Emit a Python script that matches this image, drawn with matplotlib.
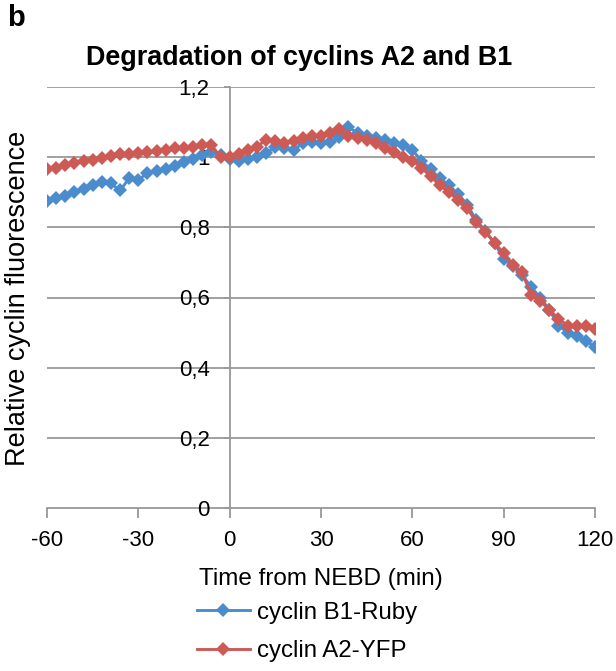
import matplotlib
matplotlib.use("Agg")
import matplotlib.pyplot as plt
from matplotlib.ticker import FuncFormatter

plt.rcParams['font.family'] = ['Liberation Sans', 'DejaVu Sans']
plt.rcParams['axes.unicode_minus'] = False

time_min = [-60, -57, -54, -51, -48, -45, -42, -39, -36, -33, -30, -27, -24, -21, -18, -15,
            -12, -9, -6, -3, 0, 3, 6, 9, 12, 15, 18, 21, 24, 27, 30, 33, 36, 39, 42, 45,
            48, 51, 54, 57, 60, 63, 66, 69, 72, 75, 78, 81, 84, 87, 90, 93, 96, 99, 102,
            105, 108, 111, 114, 117, 120]

cyclin_b1_ruby = [0.875, 0.885, 0.89, 0.90, 0.91, 0.92, 0.93, 0.925, 0.905, 0.94, 0.935, 0.955,
                  0.96, 0.965, 0.975, 0.985, 0.995, 1.005, 1.015, 1.005, 0.995, 0.99, 0.995,
                  1.0, 1.012, 1.028, 1.026, 1.02, 1.04, 1.042, 1.04, 1.043, 1.057, 1.085, 1.07,
                  1.06, 1.055, 1.05, 1.04, 1.035, 1.02, 0.99, 0.965, 0.94, 0.92, 0.895, 0.865,
                  0.82, 0.79, 0.755, 0.71, 0.69, 0.665, 0.63, 0.60, 0.565, 0.52, 0.50, 0.49,
                  0.475, 0.46]

cyclin_a2_yfp = [0.965, 0.97, 0.978, 0.983, 0.988, 0.993, 0.998, 1.003, 1.008, 1.01, 1.013, 1.015,
                 1.018, 1.02, 1.025, 1.027, 1.03, 1.035, 1.035, 1.0, 1.0, 1.01, 1.02, 1.03, 1.05,
                 1.045, 1.04, 1.045, 1.055, 1.06, 1.06, 1.07, 1.08, 1.06, 1.055, 1.05, 1.04,
                 1.027, 1.015, 1.0, 0.99, 0.97, 0.945, 0.92, 0.90, 0.878, 0.855, 0.815, 0.787,
                 0.755, 0.727, 0.693, 0.673, 0.607, 0.59, 0.565, 0.54, 0.52, 0.52, 0.52, 0.51]

x_ticks = [-60, -30, 0, 30, 60, 90, 120]
y_ticks = [0, 0.2, 0.4, 0.6, 0.8, 1.0, 1.2]

series_names = ['cyclin B1-Ruby', 'cyclin A2-YFP']
colors = ['#4B8CCD', '#CD5A55']

fig = plt.figure(figsize=(6.16, 6.71), dpi=100)
ax = fig.add_axes([47 / 616, 1 - 508 / 671, (595 - 47) / 616, (508 - 87) / 671])

gray = '#999999'
for yv in y_ticks[1:]:
    ax.axhline(yv, color=gray, lw=1.3, zorder=0)

for vals, name, c in zip([cyclin_b1_ruby, cyclin_a2_yfp], series_names, colors):
    ax.plot(time_min, vals, color=c, lw=2.1, marker='D', markersize=7.5,
            markeredgewidth=0, label=name, zorder=3)

ax.set_xlim(-60, 120)
ax.set_ylim(0, 1.2)
ax.set_xticks(x_ticks)
ax.set_yticks(y_ticks)

def comma_fmt(v, pos):
    s = f"{v:.1f}".rstrip('0').rstrip('.')
    return s.replace('.', ',')

ax.yaxis.set_major_formatter(FuncFormatter(comma_fmt))

ax.spines['left'].set_position(('data', 0))
ax.spines['right'].set_visible(False)
ax.spines['top'].set_visible(False)
for sp in ['left', 'bottom']:
    ax.spines[sp].set_color(gray)
    ax.spines[sp].set_linewidth(1.3)
    ax.spines[sp].set_zorder(1)

ax.tick_params(axis='x', direction='out', length=7, width=1.3, color=gray,
               labelsize=16, pad=9)
ax.tick_params(axis='y', direction='out', length=4.5, width=1.3, color=gray,
               labelsize=16, pad=10)

ax.set_xlabel('Time from NEBD (min)', fontsize=17.5, labelpad=12)
fig.text(18 / 616, 1 - 298 / 671, 'Relative cyclin fluorescence', rotation=90,
         fontsize=19.5, ha='center', va='center')

fig.text(299 / 616, 1 - 58 / 671, 'Degradation of cyclins A2 and B1',
         fontsize=19.4, fontweight='bold', ha='center', va='center')
fig.text(7 / 616, 1 - 18 / 671, 'b', fontsize=21, fontweight='bold', ha='left', va='center')

leg = fig.legend(loc='center', bbox_to_anchor=(307 / 616, 1 - 632 / 671), frameon=False,
                 fontsize=17.3, handlelength=2.2, handletextpad=0.3, labelspacing=0.7,
                 borderpad=0)
for h in leg.legend_handles:
    h.set_markersize(7)

fig.savefig('out.png', dpi=100)
